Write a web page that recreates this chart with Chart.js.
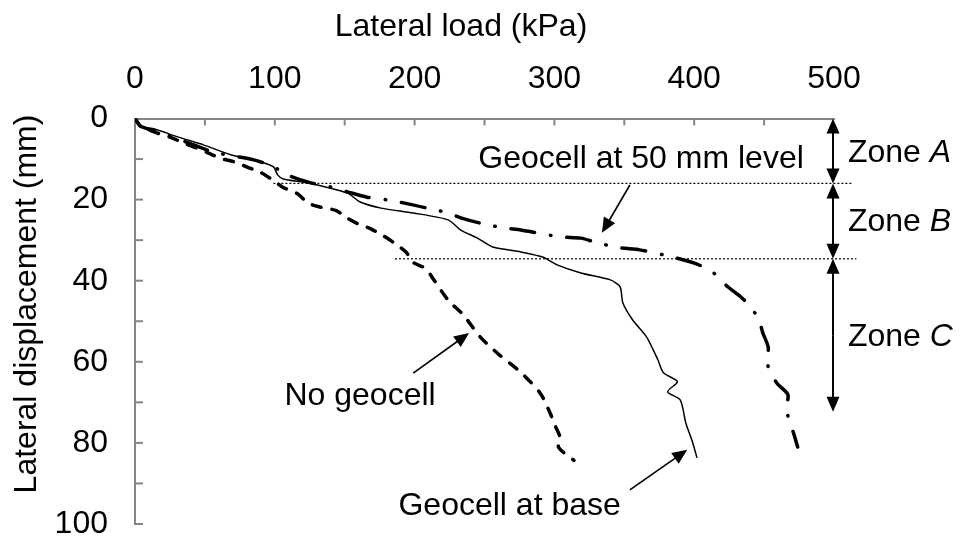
<!DOCTYPE html>
<html>
<head>
<meta charset="utf-8">
<script src="https://cdn.jsdelivr.net/npm/chart.js@4/dist/chart.umd.min.js"></script>
<style>
  html, body { margin: 0; padding: 0; background: #fff; }
  #wrap { position: relative; width: 960px; height: 542px; }
</style>
</head>
<body>
<div id="wrap"><canvas id="chart"></canvas></div>
<script>
const FONT = '"Liberation Sans", Arial, sans-serif';
const FS = 32;

// Lateral load (kPa) / lateral displacement (mm)
const noGeocellLoad = [0, 4, 16, 26, 35, 45, 53, 61, 72, 81, 90, 99, 106, 116, 124, 133, 144, 151, 159, 168, 177, 185, 194, 199, 208, 213, 224, 235, 247, 261, 276, 290, 297, 301, 304, 303, 314];
const noGeocellDisp = [0, 1.9, 3.6, 4.7, 6.1, 7.4, 8.6, 9.8, 10.8, 12.1, 13.3, 15.3, 17.0, 18.5, 20.9, 21.9, 22.7, 24.4, 25.9, 27.1, 28.8, 30.6, 33.0, 35.5, 37.0, 39.4, 44.8, 48.5, 53.9, 58.4, 62.6, 67.8, 72.7, 76.1, 78.6, 81.1, 84.3];

const baseLoad = [0, 4, 14, 31, 49, 69, 85, 99, 102, 106, 124, 152, 161, 176, 199, 224, 233, 245, 256, 276, 292, 302, 319, 340, 347, 349, 356, 366, 374, 378, 388, 381, 390, 394, 399, 402];
const baseDisp = [0, 1.9, 2.6, 4.6, 6.5, 9.0, 10.2, 11.9, 13.9, 14.9, 15.9, 18.4, 20.6, 22.1, 23.3, 25.0, 27.5, 29.5, 31.7, 32.9, 34.2, 36.1, 38.1, 39.8, 41.5, 45.5, 49.7, 53.9, 59.5, 62.7, 64.9, 67.4, 69.4, 75.1, 80.0, 83.7];

const level50Load = [0, 4, 19, 42, 56, 85, 99, 109, 124, 140, 152, 166, 181, 192, 209, 224, 233, 247, 264, 276, 304, 319, 331, 347, 361, 385, 402, 414, 424, 434, 442, 447, 449, 453, 452, 459, 467, 466, 471, 474];
const level50Disp = [0, 1.9, 3.6, 6.5, 8.3, 10.2, 11.9, 13.9, 15.7, 16.9, 18.1, 19.4, 20.1, 20.8, 22.1, 23.3, 24.5, 25.8, 27.0, 27.5, 29.2, 29.5, 30.7, 31.9, 32.4, 34.2, 35.9, 38.1, 41.5, 44.2, 47.2, 50.4, 52.8, 56.5, 60.2, 65.2, 68.1, 71.9, 77.5, 81.0];

// zone boundaries (mm) and the dotted marker lines
const zoneNames = ['A', 'B', 'C'];
const zoneEdges = [0, 16, 34.6, 72.3];
const markerDisp = [16, 34.6];
const markerFrom = [99, 186];
const markerTo = [513, 516];

const xTicks = [0, 100, 200, 300, 400, 500];
const yTicks = [0, 20, 40, 60, 80, 100];

// callouts: text anchor and arrow (start -> tip), in data units
const callouts = [
  { text: 'Geocell at 50 mm level', x: 362, y: 10.0, from: [354, 16.4], to: [334, 28.2] },
  { text: 'No geocell', x: 161, y: 68.4, from: [199, 62.8], to: [239, 52.9] },
  { text: 'Geocell at base', x: 268, y: 95.6, from: [354, 91.6], to: [395, 81.7] }
];

const toPoints = (xs, ys) => xs.map((v, i) => ({ x: v, y: ys[i] }));

const datasets = [
  {
    label: 'No geocell',
    data: toPoints(noGeocellLoad, noGeocellDisp),
    borderColor: '#000', borderWidth: 3.5, borderDash: [9, 11], borderCapStyle: 'round',
    tension: 0.25
  },
  {
    label: 'Geocell at base',
    data: toPoints(baseLoad, baseDisp),
    borderColor: '#000', borderWidth: 1.5,
    tension: 0.25
  },
  {
    label: 'Geocell at 50 mm level',
    data: toPoints(level50Load, level50Disp),
    borderColor: '#000', borderWidth: 3.5, borderDash: [24, 16, 0.5, 16], borderCapStyle: 'round',
    tension: 0.25
  }
];

markerDisp.forEach((d, i) => {
  datasets.push({
    label: 'marker' + i,
    data: [{ x: markerFrom[i], y: d }, { x: markerTo[i], y: d }],
    borderColor: '#000', borderWidth: 1.2, borderDash: [2, 2],
    clip: false
  });
});

function arrow(ctx, x1, y1, x2, y2, len, half) {
  const a = Math.atan2(y2 - y1, x2 - x1);
  ctx.beginPath();
  ctx.moveTo(x1, y1);
  ctx.lineTo(x2 - Math.cos(a) * len * 0.8, y2 - Math.sin(a) * len * 0.8);
  ctx.stroke();
  ctx.beginPath();
  ctx.moveTo(x2, y2);
  ctx.lineTo(x2 - Math.cos(a) * len - Math.sin(a) * half, y2 - Math.sin(a) * len + Math.cos(a) * half);
  ctx.lineTo(x2 - Math.cos(a) * len + Math.sin(a) * half, y2 - Math.sin(a) * len - Math.cos(a) * half);
  ctx.closePath();
  ctx.fill();
}

const decorPlugin = {
  id: 'decor',
  afterDraw(chart) {
    const { ctx, chartArea: { top, left }, scales: { x, y } } = chart;
    ctx.save();

    // inside tick marks, major and minor
    ctx.strokeStyle = '#868686';
    ctx.lineWidth = 2;
    for (let v = 50; v < 500; v += 50) {
      const px = x.getPixelForValue(v);
      ctx.beginPath(); ctx.moveTo(px, top); ctx.lineTo(px, top + 7); ctx.stroke();
    }
    for (let v = 10; v <= 100; v += 10) {
      const py = y.getPixelForValue(v);
      ctx.beginPath(); ctx.moveTo(left, py); ctx.lineTo(left + 8, py); ctx.stroke();
    }

    // axis titles
    ctx.fillStyle = '#000';
    ctx.font = FS + 'px ' + FONT;
    ctx.textAlign = 'center';
    ctx.textBaseline = 'middle';
    ctx.fillText('Lateral load (kPa)', 461, 27);
    ctx.save();
    ctx.translate(27, 304);
    ctx.rotate(-Math.PI / 2);
    ctx.fillText('Lateral displacement (mm)', 0, 0);
    ctx.restore();

    // zone arrows at the right edge
    ctx.strokeStyle = '#000';
    ctx.fillStyle = '#000';
    ctx.lineWidth = 2;
    const zx = x.getPixelForValue(500) - 1;
    for (let i = 0; i < zoneNames.length; i++) {
      const y1 = y.getPixelForValue(zoneEdges[i]);
      const y2 = y.getPixelForValue(zoneEdges[i + 1]);
      const mid = (y1 + y2) / 2;
      arrow(ctx, zx, mid, zx, y1, 15, 6.5);
      arrow(ctx, zx, mid, zx, y2, 15, 6.5);
    }
    ctx.textAlign = 'left';
    const zoneY = [8.5, 25.5, 53.9];
    zoneNames.forEach((n, i) => {
      const px = x.getPixelForValue(510);
      const py = y.getPixelForValue(zoneY[i]);
      ctx.font = FS + 'px ' + FONT;
      ctx.fillText('Zone ', px, py);
      const w = ctx.measureText('Zone ').width;
      ctx.font = 'italic ' + FS + 'px ' + FONT;
      ctx.fillText(n, px + w, py);
    });

    // callouts
    ctx.font = FS + 'px ' + FONT;
    ctx.textAlign = 'center';
    ctx.lineWidth = 1.6;
    callouts.forEach(c => {
      ctx.fillText(c.text, x.getPixelForValue(c.x), y.getPixelForValue(c.y));
      arrow(ctx,
        x.getPixelForValue(c.from[0]), y.getPixelForValue(c.from[1]),
        x.getPixelForValue(c.to[0]), y.getPixelForValue(c.to[1]), 15, 6.5);
    });

    ctx.restore();
  }
};

new Chart(document.getElementById('chart'), {
  type: 'scatter',
  data: { datasets },
  options: {
    responsive: true,
    maintainAspectRatio: false,
    devicePixelRatio: 1,
    animation: false,
    showLine: true,
    elements: { point: { radius: 0, hoverRadius: 0 } },
    layout: { padding: { left: 0, top: 0, right: 126, bottom: 18 } },
    plugins: { legend: { display: false }, tooltip: { enabled: false } },
    scales: {
      x: {
        type: 'linear',
        position: 'top',
        min: 0, max: 500,
        afterBuildTicks: s => { s.ticks = xTicks.map(v => ({ value: v })); },
        afterFit: s => { s.height = 118.5; },
        grid: { display: false, drawTicks: false },
        border: { display: true, color: '#868686', width: 2 },
        ticks: { color: '#000', font: { family: FONT, size: FS }, padding: 20, maxRotation: 0 }
      },
      y: {
        type: 'linear',
        reverse: true,
        min: 0, max: 100,
        afterBuildTicks: s => { s.ticks = yTicks.map(v => ({ value: v })); },
        afterFit: s => { s.width = 135; s.paddingTop = 0; s.paddingBottom = 0; },
        grid: { display: false, drawTicks: false },
        border: { display: true, color: '#868686', width: 2 },
        ticks: { color: '#000', font: { family: FONT, size: FS }, padding: 27 }
      }
    }
  },
  plugins: [decorPlugin]
});
</script>
</body>
</html>
